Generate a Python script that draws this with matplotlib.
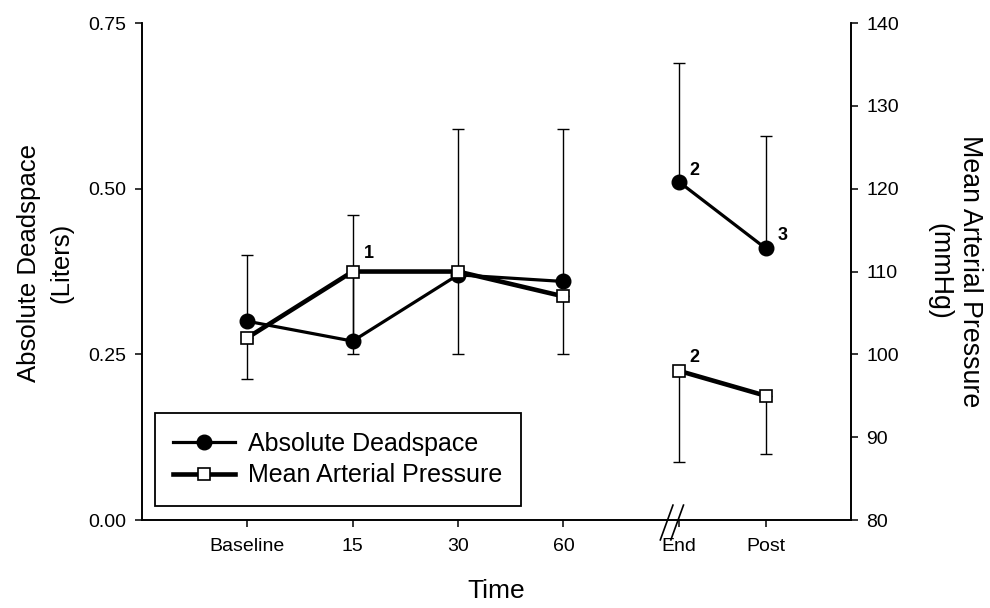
import matplotlib
matplotlib.use("Agg")
import matplotlib.pyplot as plt
from matplotlib.lines import Line2D

plt.rcParams['font.family'] = ['Liberation Sans', 'DejaVu Sans']

# time points (the last two sit past an axis break)
time_labels = ['Baseline', '15', '30', '60', 'End', 'Post']
x_pos = [1, 2, 3, 4, 5.1, 5.92]

# absolute deadspace (L), error bars drawn upward
deadspace = [0.30, 0.27, 0.37, 0.36, 0.51, 0.41]
deadspace_err = [0.10, 0.19, 0.22, 0.23, 0.18, 0.17]

# mean arterial pressure (mmHg), error bars drawn downward
map_vals = [102, 110, 110, 107, 98, 95]
map_err = [5, 10, 10, 7, 11, 7]

# significance marks: (series, index, label)
marks = [('map', 1, '1'), ('ds', 4, '2'), ('ds', 5, '3'), ('map', 4, '2')]


def main():
    fig = plt.figure(figsize=(9.9, 6.08), dpi=100)
    ax = fig.add_axes([0.1434, 0.1447, 0.7162, 0.8174])
    ax2 = ax.twinx()

    # error bars first so markers sit on top
    ax.errorbar(x_pos, deadspace, yerr=[[0] * len(deadspace), deadspace_err],
                fmt='none', ecolor='black', elinewidth=1.0, capsize=4.5,
                capthick=1.0, zorder=1)
    ax2.errorbar(x_pos, map_vals, yerr=[map_err, [0] * len(map_vals)],
                 fmt='none', ecolor='black', elinewidth=1.0, capsize=4.5,
                 capthick=1.0, zorder=1)

    ds_style = dict(color='black', lw=2.3, marker='o', markersize=10.5,
                    markerfacecolor='black', markeredgecolor='black', zorder=3)
    map_style = dict(color='black', lw=3.3, marker='s', markersize=8.5,
                     markerfacecolor='white', markeredgecolor='black',
                     markeredgewidth=1.2, zorder=3)

    for seg in (slice(0, 4), slice(4, 6)):
        ax.plot(x_pos[seg], deadspace[seg], **ds_style)
        ax2.plot(x_pos[seg], map_vals[seg], **map_style)

    # numbered annotations
    offsets = {('map', 1): (12, 13), ('ds', 4): (11, 8),
               ('ds', 5): (12, 9), ('map', 4): (11, 10)}
    for series, i, txt in marks:
        tgt, yv = (ax, deadspace[i]) if series == 'ds' else (ax2, map_vals[i])
        tgt.annotate(txt, (x_pos[i], yv), xytext=offsets[(series, i)],
                     textcoords='offset points', fontsize=13,
                     fontweight='bold', ha='center', va='center', zorder=5)

    ax.set_xlim(0, 6.73)
    ax.set_ylim(0, 0.75)
    ax2.set_ylim(80, 140)
    ax.set_yticks([0, 0.25, 0.5, 0.75])
    ax.set_yticklabels(['0.00', '0.25', '0.50', '0.75'])
    ax2.set_yticks(range(80, 141, 10))
    ax.set_xticks(x_pos)
    ax.set_xticklabels(time_labels)

    for a in (ax, ax2):
        a.spines['top'].set_visible(False)
        for s in a.spines.values():
            s.set_linewidth(1.2)
        a.tick_params(direction='out', length=5, width=1.1, labelsize=14, pad=6)
    ax.tick_params(axis='x', labelsize=14, pad=8)

    ax.set_xlabel('Time', fontsize=19, labelpad=17)
    ax.set_ylabel('Absolute Deadspace\n(Liters)', fontsize=18.5,
                  linespacing=1.45, ha='center', va='center')
    ax.yaxis.set_label_coords(-0.137, 0.517)
    ax2.set_ylabel('Mean Arterial Pressure\n(mmHg)', fontsize=19.3,
                   rotation=270, linespacing=1.2, ha='center', va='center')
    ax2.yaxis.set_label_coords(1.146, 0.5)

    # break marks on the x axis
    bx = 5.03
    for dx in (-0.05, 0.05):
        ax.plot([bx + dx - 0.06, bx + dx + 0.06], [-0.04, 0.03],
                transform=ax.get_xaxis_transform(), color='black', lw=1.2,
                clip_on=False, zorder=6)

    handles = [Line2D([], [], **ds_style), Line2D([], [], **map_style)]
    leg = ax2.legend(handles, ['Absolute Deadspace', 'Mean Arterial Pressure'],
                     loc='lower left', bbox_to_anchor=(0.018, 0.028),
                     borderaxespad=0, fontsize=18, handlelength=2.45,
                     fancybox=False, framealpha=1, edgecolor='black',
                     borderpad=0.75, labelspacing=0.3, handletextpad=0.55)
    leg.get_frame().set_linewidth(1.3)

    fig.savefig('out.png', dpi=100)


if __name__ == '__main__':
    main()
